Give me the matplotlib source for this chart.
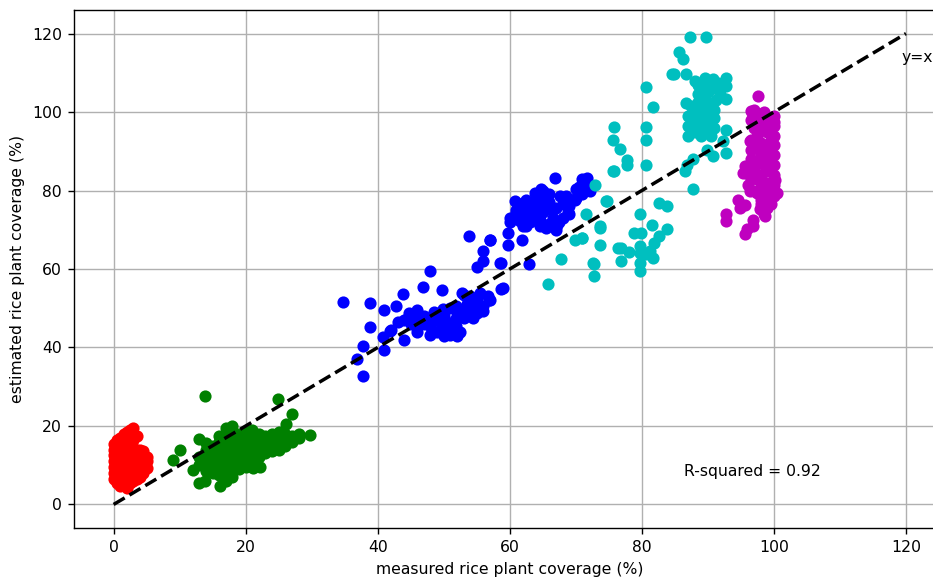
import matplotlib
matplotlib.use("Agg")
import matplotlib.pyplot as plt

plt.rcParams['font.size'] = 9

# ---- data ----
red_x = [0.0]*7 + [0.5]*5 + [1.0]*6 + [1.5]*6 + [2.0]*6 + [2.5]*7 + [3.0]*7 + [3.5]*5 + [4.0]*5 + [4.5]*4 + [5.0]*3
red_y = [6.5, 8, 9.5, 11, 12.5, 14, 15.5,
         5.5, 7, 10, 13, 16.5,
         4.8, 6, 8.5, 11.5, 14.5, 17,
         5, 7.5, 10.5, 12, 15, 18,
         4.3, 6.5, 9, 13.5, 16, 18.5,
         5.5, 8, 11, 12.5, 15.5, 17.5, 19,
         6, 7.5, 10, 13, 14.5, 16.5, 19.6,
         6.5, 9, 11.5, 14, 17.5,
         7, 8.5, 10.5, 12.5, 14,
         8, 10, 12, 13.5,
         9.4, 11, 12]

green_x = [13.9, 24.9, 27.0, 26.1, 29.8, 10.0, 9.0, 12.0, 12.9, 13.8, 16.1, 17.0, 21.1, 22.1, 12.9, 14.0,
           13, 13, 14, 14, 14, 14, 15, 15, 15, 15, 15,
           16, 16, 16, 16, 16, 16, 16,
           17, 17, 17, 17, 17, 17, 17, 17,
           18, 18, 18, 18, 18, 18, 18, 18, 18,
           19, 19, 19, 19, 19, 19, 19,
           20, 20, 20, 20, 20, 20, 20,
           21, 21, 21, 21, 21, 21,
           22, 22, 22, 22, 22,
           23, 23, 23, 23,
           24, 24, 24, 24,
           25, 25, 25, 25,
           26, 26, 26,
           27, 27, 28, 28]
green_y = [27.6, 26.75, 23.1, 20.4, 17.8, 13.8, 11.3, 8.9, 5.35, 5.9, 4.8, 6.1, 9.3, 9.6, 16.7, 15.7,
           10, 12, 8.5, 10.5, 12.5, 14, 8, 9.5, 11, 13, 15,
           7.5, 9, 10.5, 12, 14, 16, 17.5,
           8, 9.5, 11, 12.5, 14, 15.5, 18, 19.5,
           7, 8.5, 10, 11.5, 13, 14.5, 16, 17.5, 20,
           9, 10.5, 12, 13.5, 15, 16.5, 18,
           9.5, 11, 12.5, 14, 15.5, 17, 18.5,
           11, 13, 14.5, 16, 17.5, 19,
           12, 13.5, 15, 16.5, 18,
           13, 14.5, 16, 17.5,
           13.5, 15, 16.5, 18,
           14, 15.5, 17, 18.5,
           15, 16.5, 18,
           16, 17.5, 17, 18]

blue_x = [34.8, 38.9, 40.9, 42.8, 43.8, 46.9, 49.8, 38.9, 37.8, 36.9, 37.8, 40.9, 40.8, 41.9,
          44.8, 45.95, 44.8, 46.0, 47.9, 47.9, 48.9, 49.9, 50.9, 51.8, 51.8,
          52.8, 55.0, 56.7, 56.8, 58.7, 51.9, 52.9, 53.4, 55.0, 56.0, 51.7, 50.7, 49.9,
          44, 45, 46, 47, 47, 48, 48.5, 49, 49.5, 50, 50.5, 51, 51.5, 52, 52.5, 53, 53.5, 54,
          54.5, 55, 56, 52, 50, 46, 42, 43, 44, 54, 55.5, 57, 53, 47.9, 53.8,
          56, 56, 57, 55, 58.5,
          66.8, 70.9, 71.7, 64.8, 63.8, 67.6, 69.1, 70.0, 72.1, 71.1, 60.8, 62.0, 64.8, 65.0, 66.1,
          61.0, 63.0, 64.0, 61.5, 62.5, 64.5, 67.1, 68.8, 69.8, 59.7, 59.7, 61.9, 57.0, 58.7, 62.9, 58.9,
          60, 61, 61.5, 62, 62.5, 63, 63.5, 64, 64.5, 65, 65.5, 66, 66.5, 67, 67.5, 68, 68.5, 69,
          70, 70.5, 71, 72, 65, 66, 64, 63, 62, 66, 69, 60, 65.5, 67, 68]
blue_y = [51.5, 51.4, 49.5, 50.5, 53.6, 55.3, 54.6, 45.3, 40.5, 37.1, 32.7, 39.3, 42.7, 44.2,
          48.8, 49.5, 48.0, 45.3, 43.1, 45.4, 47.1, 49.7, 43.3, 43.9, 45.4,
          53.8, 52.7, 53.1, 52.2, 55.0, 50.5, 49.7, 48.8, 48.8, 49.2, 47.1, 46.3, 45.0,
          47, 46, 47.5, 48, 46, 47, 49, 44, 46.5, 48, 44.5, 50, 46, 48, 44, 47.5, 51, 50,
          47.5, 51, 50.5, 43, 43, 44, 44.5, 46.5, 42, 53, 54, 52, 53.5, 59.4, 68.3,
          62, 64.5, 67.5, 60.5, 61.5,
          83.2, 83.0, 83.2, 80.3, 79.4, 78.5, 77.7, 80.3, 79.8, 81.5, 77.3, 76.9, 77.7, 76.0, 75.2,
          74.3, 75.2, 73.5, 72.2, 70.9, 70.9, 71.3, 74.5, 77.7, 69.2, 66.2, 67.5, 67.5, 61.6, 61.4, 55.2,
          73, 75, 72.5, 74, 77.5, 72, 74.5, 76.5, 72.5, 74.5, 78.5, 77, 73, 75.5, 72, 76.5, 78.5, 76,
          78, 81, 79, 80.5, 80, 79, 78, 73.5, 71, 71.5, 74, 72, 70.5, 70, 73]

cyan_x = [75.8, 72.9, 74.6, 71.6, 73.6, 69.8, 70.9, 73.7, 76.4, 67.8, 72.7, 72.7, 65.8,
          84.9, 86.7, 80.7, 81.7, 86.7, 88.5, 89.5, 90.8, 92.8, 92.8, 91.8, 92.8,
          92.8, 92.3, 92.8, 90.8, 89.8, 87.8, 86.8, 86.5, 87.7,
          75.8, 75.7, 76.7, 77.8, 77.7, 75.7, 80.7, 80.7, 80.7,
          74.7, 71.0, 73.7, 72.6,
          82.6, 83.8, 83.8, 79.7, 78.8, 79.9, 81.6, 82.6, 81.8,
          76.9, 78.1, 76.9, 79.7, 79.7, 79.7, 80.7, 81.7, 81.2, 79.7,
          87.3, 89.7, 85.6, 86.2, 84.5,
          87, 87, 87, 87.5, 88, 88, 88, 88.5, 89, 89, 89, 89, 89.5, 90, 90, 90, 90, 90.5,
          91, 91, 91, 91.3, 88.5, 90, 89.5, 91, 88, 91.5]
cyan_y = [84.9, 81.5, 77.3, 73.9, 70.5, 67.5, 67.9, 66.0, 65.4, 62.6, 61.4, 58.2, 56.3,
          109.8, 109.6, 106.4, 101.3, 102.3, 107.0, 108.7, 108.3, 108.7, 106.6, 104.5, 103.2,
          95.5, 92.6, 89.6, 88.7, 90.4, 88.1, 86.6, 84.9, 80.4,
          96.1, 92.8, 90.7, 87.9, 86.6, 85.1, 96.1, 92.8, 86.4,
          77.3, 67.9, 70.9, 61.6,
          76.7, 76.0, 70.2, 73.9, 69.2, 69.2, 71.1, 68.4, 66.6,
          65.4, 64.3, 62.0, 65.8, 64.1, 61.6, 63.7, 62.9, 64.5, 59.4,
          119.2, 119.0, 115.4, 113.4, 109.6,
          94, 96.5, 99, 101.5, 95, 97.5, 100, 102.5, 94, 96, 98.5, 101, 103, 95, 97, 99.5, 102, 94,
          96, 98.5, 100.5, 103, 104.5, 105, 106.5, 106, 108, 107.5]

magenta_x = [97.6, 96.6, 96.9, 95.6, 95.3, 96.4, 96.6, 94.6, 95.6, 94.8, 92.8, 92.8,
             96.9, 96.9, 95.9, 95.6, 98.6, 98.9, 97.9, 98.9, 100.4, 100.2, 98.1, 96.4, 97.4,
             96.5, 97, 97.5, 98, 98, 98.5, 99, 99.5, 100, 100, 100, 100, 100, 100, 100, 100,
             99.5, 99, 99, 99, 99, 98.5, 98.5, 98, 98, 98, 97.5, 97.5, 97, 97, 97, 96.5, 96.5,
             96, 96, 95.8, 96.5, 97.5, 99, 98.5, 99.5, 97, 98, 100, 100, 99.5, 98.5, 98]
magenta_y = [104.0, 100.2, 98.9, 86.2, 84.5, 92.6, 90.4, 77.7, 76.4, 75.6, 73.9, 72.2,
             72.6, 70.9, 70.1, 68.8, 73.5, 75.6, 75.2, 78.1, 79.4, 82.8, 77.7, 79.8, 79.4,
             98, 96, 94, 92, 99.5, 97, 95, 93, 99, 96.5, 94, 91.5, 89, 86.5, 84, 81.5,
             90, 88, 85, 82, 79.5, 91, 86.5, 89, 84, 81, 87, 83, 91, 85, 80, 88, 83,
             86, 81.5, 84.5, 93, 97.5, 97, 100, 98.5, 100.5, 95.5, 97.5, 78.5, 76.5, 74, 76.5]

line_vals = [0, 120]
xticks = [0, 20, 40, 60, 80, 100, 120]
yticks = [0, 20, 40, 60, 80, 100, 120]
r_squared_label = "R-squared = 0.92"

# ---- figure ----
DPI = 125
fig = plt.figure(figsize=(933 / DPI, 579 / DPI), dpi=DPI)
ax = fig.add_axes([74 / 933, 51 / 579, 871.6 / 933, 518 / 579])

ax.scatter(red_x, red_y, color='r', zorder=2)
ax.scatter(green_x, green_y, color='g', zorder=2)
ax.scatter(blue_x, blue_y, color='b', zorder=2)
ax.scatter(cyan_x, cyan_y, color='c', zorder=2)
ax.scatter(magenta_x, magenta_y, color='m', zorder=2)

ax.plot(line_vals, line_vals, 'k--', lw=2, zorder=3)
ax.text(119.3, 114, 'y=x', va='center', ha='left')
ax.text(0.7, 0.1, r_squared_label, transform=ax.transAxes)

ax.set_xlim(-6, 126)
ax.set_ylim(-6, 126)
ax.set_xticks(xticks)
ax.set_yticks(yticks)
ax.grid(True)
ax.set_axisbelow(True)
ax.set_xlabel('measured rice plant coverage (%)')
ax.set_ylabel('estimated rice plant coverage (%)')

fig.savefig('out.png', dpi=DPI)
